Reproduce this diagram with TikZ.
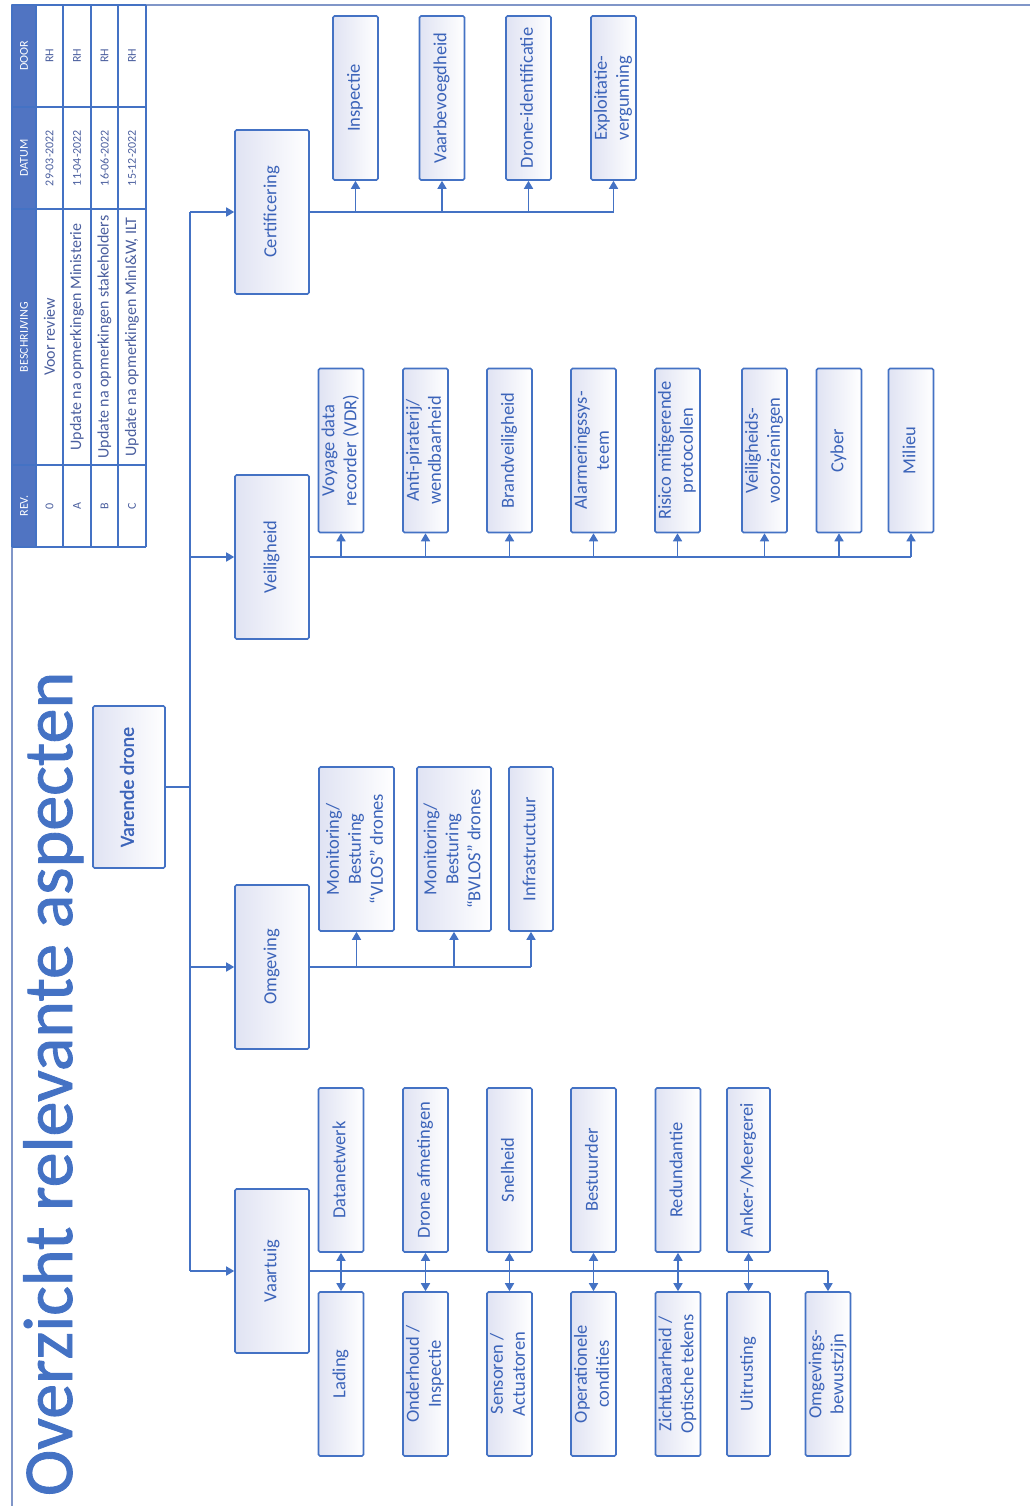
\documentclass[tikz,border=0pt]{standalone}
\usepackage{fontspec}
\setmainfont{Carlito}
\newfontfamily\titlefont[FakeBold=1.2]{Carlito}
\usetikzlibrary{arrows.meta}
\definecolor{ln}{HTML}{4472C4}
\definecolor{txt}{HTML}{3B63B9}
\definecolor{grad}{HTML}{E0E3F3}
\definecolor{frm}{HTML}{8096C8}
\definecolor{hdr}{HTML}{5074C2}
\definecolor{tbltxt}{HTML}{4A5E9E}
\newcommand{\rtxt}[1]{\rotatebox{90}{\begin{tabular}{@{}c@{}}#1\end{tabular}}}
\begin{document}
\begin{tikzpicture}[x=1pt,y=-1pt,
  bx/.style={draw=ln, line width=1.6pt, rounded corners=1.5pt, left color=grad, right color=white, inner sep=0pt, text=txt, font=\fontsize{18.5}{22}\selectfont},
  leaf/.style={bx, minimum width=45pt, minimum height=164pt},
  cat/.style={bx, minimum width=74pt, minimum height=164pt},
  bus/.style={draw=ln, line width=2pt},
  arr/.style={draw=ln, line width=1.6pt, -{Triangle[length=8pt,width=9pt]}},
  darr/.style={draw=ln, line width=1.6pt, {Triangle[length=8pt,width=9pt]}-{Triangle[length=8pt,width=9pt]}},
  tcell/.style={rotate=90, text=tbltxt, inner sep=0pt, font=\fontsize{12}{14}\selectfont},
  tdesc/.style={tcell, font=\fontsize{16}{18}\selectfont},
  thead/.style={rotate=90, text=white, inner sep=0pt, font=\fontsize{12}{14}\selectfont},
  tline/.style={draw=ln, line width=1.2pt},
  frame/.style={draw=frm, line width=2pt}
]
\useasboundingbox (0,0) rectangle (1030,1506);
% frame
\draw[frame] (12,1506) -- (12,5) -- (1030,5);
% table
\fill[hdr] (12,5) rectangle (36,547);
\foreach \yy in {5,107,209,465,547} \draw[tline] (12,\yy) -- (146,\yy);
\foreach \xx in {12,36,63,91,118,146} \draw[tline] (\xx,5) -- (\xx,547);
\node[thead] (hdoor) at (24,56) {DOOR};
\node[thead] (hdat) at (24,158) {DATUM};
\node[thead] (hbes) at (24,337) {BESCHRIJVING};
\node[thead] (hrev) at (24,506) {REV.};
\node[tcell] (d0) at (49.5,56) {RH};
\node[tcell] (t0) at (49.5,158) {29-03-2022};
\node[tdesc] (b0) at (49.5,337) {Voor review};
\node[tcell] (r0) at (49.5,506) {0};
\node[tcell] (dA) at (77,56) {RH};
\node[tcell] (tA) at (77,158) {11-04-2022};
\node[tdesc] (bA) at (77,337) {Update na opmerkingen Ministerie};
\node[tcell] (rA) at (77,506) {A};
\node[tcell] (dB) at (104.5,56) {RH};
\node[tcell] (tB) at (104.5,158) {16-06-2022};
\node[tdesc] (bB) at (104.5,337) {Update na opmerkingen stakeholders};
\node[tcell] (rB) at (104.5,506) {B};
\node[tcell] (dC) at (132,56) {RH};
\node[tcell] (tC) at (132,158) {15-12-2022};
\node[tdesc] (bC) at (132,337) {Update na opmerkingen MinI\&W, ILT};
\node[tcell] (rC) at (132,506) {C};
% title
\node[rotate=90, anchor=base, text=ln, inner sep=0pt, font=\titlefont\fontsize{70}{80}\selectfont] (title) at (72,1084) {Overzicht relevante aspecten};
% root
\node[bx, minimum width=72pt, minimum height=162pt, font=\titlefont\fontsize{20}{24}\selectfont] (drone) at (129,787) {\rtxt{Varende drone}};
% categories
\node[cat] (cert) at (272,212) {\rtxt{Certificering}};
\node[cat] (veil) at (272,557) {\rtxt{Veiligheid}};
\node[cat] (omg) at (272,967) {\rtxt{Omgeving}};
\node[cat] (vaar) at (272,1271) {\rtxt{Vaartuig}};
% certificering leaves
\node[leaf] (c1) at (355.5,98) {\rtxt{Inspectie}};
\node[leaf] (c2) at (442,98) {\rtxt{Vaarbevoegdheid}};
\node[leaf] (c3) at (528.5,98) {\rtxt{Drone-identificatie}};
\node[leaf] (c4) at (613.5,98) {\rtxt{Exploitatie-\\vergunning}};
% veiligheid leaves
\node[leaf] (v1) at (341,450.5) {\rtxt{Voyage data\\recorder (VDR)}};
\node[leaf] (v2) at (425.5,450.5) {\rtxt{Anti-piraterij/\\wendbaarheid}};
\node[leaf] (v3) at (509.5,450.5) {\rtxt{Brandveiligheid}};
\node[leaf] (v4) at (593.5,450.5) {\rtxt{Alarmeringssys-\\teem}};
\node[leaf] (v5) at (677.5,450.5) {\rtxt{Risico mitigerende\\protocollen}};
\node[leaf] (v6) at (764.5,450.5) {\rtxt{Veiligheids-\\voorzieningen}};
\node[leaf] (v7) at (839,450.5) {\rtxt{Cyber}};
\node[leaf] (v8) at (911,450.5) {\rtxt{Milieu}};
% omgeving leaves
\node[leaf, minimum width=75pt] (o1) at (356.5,849) {\rtxt{Monitoring/\\Besturing\\“VLOS” drones}};
\node[leaf, minimum width=74pt] (o2) at (454,849) {\rtxt{Monitoring/\\Besturing\\“BVLOS” drones}};
\node[leaf, minimum width=44pt] (o3) at (531,849) {\rtxt{Infrastructuur}};
% vaartuig leaves top
\node[leaf] (a1) at (341,1170) {\rtxt{Datanetwerk}};
\node[leaf] (a2) at (425.5,1170) {\rtxt{Drone afmetingen}};
\node[leaf] (a3) at (509.5,1170) {\rtxt{Snelheid}};
\node[leaf] (a4) at (593.5,1170) {\rtxt{Bestuurder}};
\node[leaf] (a5) at (678,1170) {\rtxt{Redundantie}};
\node[leaf, minimum width=43pt] (a6) at (748.5,1170) {\rtxt{Anker-/Meergerei}};
% vaartuig leaves bottom
\node[leaf] (b1) at (341,1374) {\rtxt{Lading}};
\node[leaf] (b2) at (425.5,1374) {\rtxt{Onderhoud /\\Inspectie}};
\node[leaf] (b3) at (509.5,1374) {\rtxt{Sensoren /\\Actuatoren}};
\node[leaf] (b4) at (593.5,1374) {\rtxt{Operationele\\condities}};
\node[leaf] (b5) at (678,1374) {\rtxt{Zichtbaarheid /\\Optische tekens}};
\node[leaf, minimum width=43pt] (b6) at (748.5,1374) {\rtxt{Uitrusting}};
\node[leaf] (b7) at (828,1374) {\rtxt{Omgevings-\\bewustzijn}};
% trunk
\coordinate (trk) at (190,787);
\draw[bus, line width=2.5pt] (drone.east) -- (trk);
\draw[bus] (trk |- cert.west) -- (trk |- vaar.west);
\foreach \n in {cert,veil,omg,vaar} \draw[arr] (trk |- \n.west) -- (\n.west);
% certificering bus
\draw[bus] (cert.east) -- (c4.south |- cert.east);
\foreach \n in {c1,c2,c3,c4} \draw[arr] (\n.south |- cert.east) -- (\n.south);
% veiligheid bus
\draw[bus] (veil.east) -- (v8.south |- veil.east);
\foreach \n in {v1,v2,v3,v4,v5,v6,v7,v8} \draw[arr] (\n.south |- veil.east) -- (\n.south);
% omgeving bus
\draw[bus] (omg.east) -- (o3.south |- omg.east);
\foreach \n in {o1,o2,o3} \draw[arr] (\n.south |- omg.east) -- (\n.south);
% vaartuig bus
\draw[bus, line width=1.6pt] (vaar.east) -- (b7.north |- vaar.east);
\draw[arr] (b7.north |- vaar.east) -- (b7.north);
\draw[darr] (a1.south) -- (b1.north);
\draw[darr] (a2.south) -- (b2.north);
\draw[darr] (a3.south) -- (b3.north);
\draw[darr] (a4.south) -- (b4.north);
\draw[darr] (a5.south) -- (b5.north);
\draw[darr] (a6.south) -- (b6.north);
\end{tikzpicture}
\end{document}
